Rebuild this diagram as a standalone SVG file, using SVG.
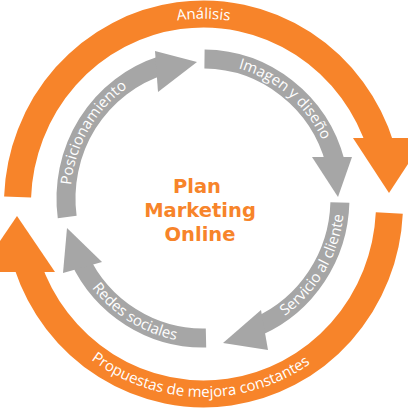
<svg xmlns="http://www.w3.org/2000/svg" width="408" height="412" viewBox="0 0 408 412">
<defs>
<style>
.ob{fill:none;stroke:#F7842A;stroke-width:27}
.oh{fill:#F7842A}
.gb{fill:none;stroke:#A6A6A6;stroke-width:19}
.gh{fill:#A6A6A6}
.lbl{font-family:"Open Sans","Liberation Sans",sans-serif;font-size:15px;fill:#ffffff}
.ctr{font-family:"DejaVu Sans",Verdana,sans-serif;font-weight:bold;font-size:19.5px;fill:#F7842A;text-anchor:middle}
</style>
<path id="tp-an" d="M25.2,171.9 A181,185 0 0 1 381.8,171.9"/>
<path id="tp-pr" d="M15.8,234.2 A190,193 0 0 0 390,240.8"/>
<path id="tp-po" d="M116.4,300.7 A132.5,135 0 0 1 250.1,72.3"/>
<path id="tp-im" d="M117,95.8 A132.5,135 0 0 1 318.3,265"/>
<path id="tp-se" d="M152.3,332.9 A141.5,144 0 0 0 295.8,89.8"/>
<path id="tp-re" d="M70.9,146.9 A141.5,144 0 0 0 309.8,293"/>
</defs>
<rect width="408" height="412" fill="#ffffff"/>

<g id="analisis">
<path class="ob" d="M17.6,197 A186,190 0 0 1 380.9,147"/>
<polygon class="oh" points="353,138 425,138 389,193"/>
<text class="lbl"><textPath href="#tp-an" startOffset="50%" text-anchor="middle">Análisis</textPath></text>
</g>

<g id="propuestas">
<path class="ob" d="M389.3,213 A186,190 0 0 1 27.4,265"/>
<polygon class="oh" points="-21,272 55,272 17,216"/>
<text class="lbl"><textPath href="#tp-pr" startOffset="50%" text-anchor="middle">Propuestas de mejora constantes</textPath></text>
</g>

<g id="posicionamiento">
<path class="gb" d="M67.2,217 A137,139.5 0 0 1 162,65.4"/>
<polygon class="gh" points="155,51 197,62 158,92"/>
<text class="lbl"><textPath href="#tp-po" startOffset="50%" text-anchor="middle">Posicionamiento</textPath></text>
</g>

<g id="imagen">
<path class="gb" d="M204.5,59 A137,139.5 0 0 1 335.2,162"/>
<polygon class="gh" points="312,157 352,157 338,197"/>
<text class="lbl"><textPath href="#tp-im" startOffset="50%" text-anchor="middle">Imagen y diseño</textPath></text>
</g>

<g id="servicio">
<path class="gb" d="M339.9,202.5 A137,139.5 0 0 1 258,326.3"/>
<polygon class="gh" points="261,310 268,350 223,343"/>
<text class="lbl"><textPath href="#tp-se" startOffset="50%" text-anchor="middle">Servicio al cliente</textPath></text>
</g>

<g id="redes">
<path class="gb" d="M206,338 A137,139.5 0 0 1 79.1,258"/>
<polygon class="gh" points="102,262 63,273 67,228"/>
<text class="lbl"><textPath href="#tp-re" startOffset="50%" text-anchor="middle">Redes sociales</textPath></text>
</g>

<g id="centro">
<text class="ctr" x="197" y="193">Plan</text>
<text class="ctr" x="200" y="217">Marketing</text>
<text class="ctr" x="200" y="241">Online</text>
</g>

<g id="connectors"></g>
</svg>
